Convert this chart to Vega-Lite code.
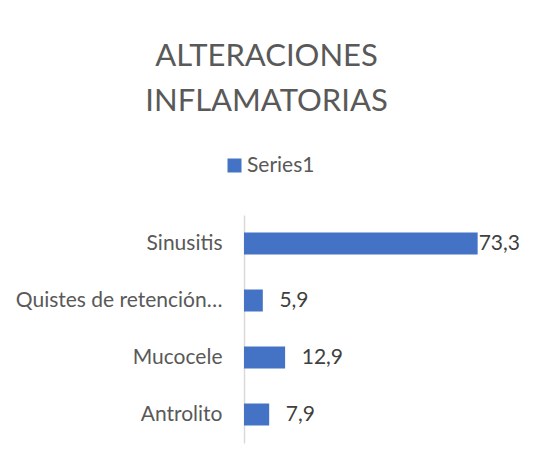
{
  "$schema": "https://vega.github.io/schema/vega-lite/v6.json",
  "width": 255,
  "height": 228,
  "autosize": {"type": "none"},
  "padding": {"left": 244, "top": 215, "right": 34, "bottom": 22},
  "background": "white",
  "title": {
    "text": ["ALTERACIONES", "INFLAMATORIAS"],
    "anchor": "middle",
    "dx": -105,
    "fontSize": 31,
    "font": "Lato",
    "fontWeight": "normal",
    "color": "#595959",
    "lineHeight": 45,
    "offset": 37
  },
  "data": {
    "values": [
      {"category": "Sinusitis", "value": 73.3, "series": "Series1"},
      {"category": "Quistes de retención…", "value": 5.9, "series": "Series1"},
      {"category": "Mucocele", "value": 12.9, "series": "Series1"},
      {"category": "Antrolito", "value": 7.9, "series": "Series1"}
    ]
  },
  "transform": [
    {"calculate": "datum.value > 60 ? datum.value : datum.value + 4.9", "as": "labelPos"}
  ],
  "encoding": {
    "y": {
      "field": "category",
      "type": "nominal",
      "sort": null,
      "scale": {"paddingInner": 0.614, "paddingOuter": 0.307},
      "axis": {
        "title": null,
        "ticks": false,
        "domainColor": "#d9d9d9",
        "domainWidth": 1.5,
        "labelFont": "Lato",
        "labelFontSize": 21,
        "labelColor": "#595959",
        "labelPadding": 22,
        "labelLimit": 300
      }
    }
  },
  "layer": [
    {
      "mark": {"type": "bar", "color": "#4472C4"},
      "encoding": {
        "x": {
          "field": "value",
          "type": "quantitative",
          "scale": {"domain": [0, 80], "nice": false},
          "axis": null
        },
        "color": {
          "field": "series",
          "type": "nominal",
          "scale": {"range": ["#4472C4"]},
          "legend": {
            "title": null,
            "orient": "none",
            "legendX": -20,
            "legendY": -60,
            "symbolType": "square",
            "symbolSize": 196,
            "symbolStrokeWidth": 0,
            "symbolOpacity": 1,
            "labelFont": "Lato",
            "labelFontSize": 21,
            "labelColor": "#595959",
            "labelOffset": 2
          }
        }
      }
    },
    {
      "mark": {"type": "text", "align": "left", "baseline": "middle", "dx": 1, "font": "Lato", "fontSize": 21, "color": "#404040"},
      "encoding": {
        "x": {"field": "labelPos", "type": "quantitative"},
        "text": {"field": "value", "type": "quantitative", "format": ".1f"}
      }
    }
  ],
  "config": {
    "view": {"stroke": null},
    "locale": {
      "number": {"decimal": ",", "thousands": ".", "grouping": [3], "currency": ["", " €"]}
    }
  }
}
